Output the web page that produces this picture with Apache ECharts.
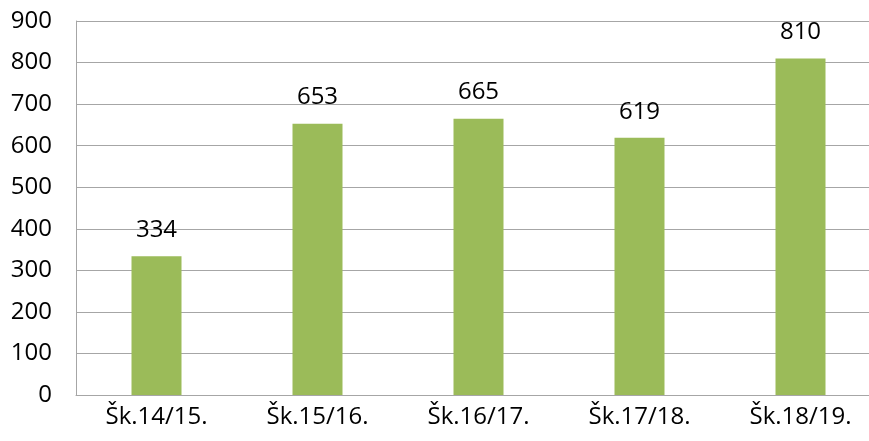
<!DOCTYPE html>
<html>
<head>
<meta charset="utf-8">
<script src="https://cdn.jsdelivr.net/npm/echarts@6/dist/echarts.min.js"></script>
<style>html,body{margin:0;padding:0;background:#fff}#c{width:869px;height:441px}</style>
</head>
<body>
<div id="c"></div>
<script>
const categories = ['Šk.14/15.', 'Šk.15/16.', 'Šk.16/17.', 'Šk.17/18.', 'Šk.18/19.'];
const values = [334, 653, 665, 619, 810];
const yTicks = { min: 0, max: 900, interval: 100 };

const chart = echarts.init(document.getElementById('c'));
const font = "'Open Sans', 'Liberation Sans', sans-serif";
chart.setOption({
  animation: false,
  grid: { left: 76, right: -12, top: 21, bottom: 46, containLabel: false, outerBoundsMode: 'none' },
  xAxis: {
    type: 'category',
    data: categories,
    axisLine: { show: true, lineStyle: { color: '#a6a6a6', width: 1 } },
    axisTick: { show: false },
    axisLabel: { color: '#000', fontSize: 24, fontFamily: font, margin: 10 }
  },
  yAxis: {
    type: 'value',
    min: yTicks.min, max: yTicks.max, interval: yTicks.interval,
    axisLine: { show: true, lineStyle: { color: '#a6a6a6', width: 1 } },
    axisTick: { show: false },
    splitLine: { lineStyle: { color: '#a6a6a6', width: 1 } },
    axisLabel: { color: '#000', fontSize: 24, fontFamily: font, margin: 24 }
  },
  series: [{
    type: 'bar',
    data: values,
    barWidth: 50,
    itemStyle: { color: '#9bbb59' },
    label: { show: true, position: 'top', distance: 14, color: '#000', fontSize: 24, fontFamily: font }
  }]
});
</script>
</body>
</html>
